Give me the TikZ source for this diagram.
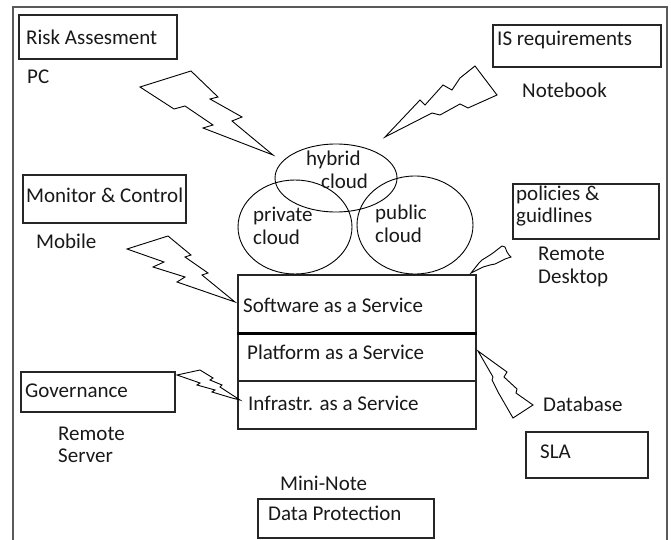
\documentclass[tikz,border=0pt]{standalone}
\usepackage{fontspec}
\setmainfont{Carlito}
\usetikzlibrary{shapes.geometric}
\begin{document}
\begin{tikzpicture}[x=1pt,y=-1pt,
  box/.style={draw=black!85,line width=1.6pt,rectangle,anchor=north west,inner sep=0pt},
  txt/.style={anchor=west,inner sep=0pt,align=left,text=black!90,font=\fontsize{21}{22.5}\selectfont},
  cloudell/.style={draw=black,line width=0.9pt,ellipse,inner sep=0pt},
  bolt/.style={draw=black,line width=0.9pt,line join=miter},
  frame/.style={draw=black!65,line width=1.6pt}]
\useasboundingbox (0,0) rectangle (671,540);
\fill[white] (0,0) rectangle (671,540);
% frame
\coordinate (fbl) at (13,540);
\coordinate (ftl) at (13,7);
\coordinate (ftr) at (667,7);
\coordinate (fbr) at (667,540);
\draw[frame] (fbl) -- (ftl) -- (ftr) -- (fbr);
% boxes
\node[box,minimum width=158,minimum height=44] (risk) at (18,14) {};
\node[txt] (riskT) at (26,37) {Risk Assesment};
\node[box,minimum width=168,minimum height=42] (isreq) at (492,24) {};
\node[txt] (isreqT) at (497,40) {IS requirements};
\node[box,minimum width=163,minimum height=48] (monitor) at (22,174) {};
\node[txt] (monitorT) at (26,195) {Monitor \& Control};
\node[box,minimum width=146,minimum height=55] (policies) at (512,183) {};
\node[txt] (policiesT) at (516,206) {policies \&\\guidlines};
\node[box,minimum width=238,minimum height=58] (saas) at (237,274) {};
\node[txt] (saasT) at (243,305) {Software as a Service};
\node[box,minimum width=238,minimum height=48] (paas) at (237,332) {};
\node[txt] (paasT) at (247,352) {Platform as a Service};
\node[box,minimum width=238,minimum height=48] (iaas) at (237,380) {};
\node[txt] (iaasT) at (248,403) {Infrastr. as a Service};
\draw[draw=black,line width=2.6pt] (saas.south west) -- (saas.south east);
\node[box,minimum width=154,minimum height=40] (gov) at (20,371) {};
\node[txt] (govT) at (25,391) {Governance};
\node[box,minimum width=122,minimum height=46] (sla) at (525,431) {};
\node[txt] (slaT) at (540,452) {SLA};
\node[box,minimum width=176,minimum height=39] (dp) at (257,498) {};
\node[txt] (dpT) at (268,513) {Data Protection};
% free labels
\node[txt] (pc) at (27,77) {PC};
\node[txt] (notebook) at (522,90) {Notebook};
\node[txt] (mobile) at (36,241) {Mobile};
\node[txt] (rdesk) at (538,267) {Remote\\Desktop};
\node[txt] (rserv) at (58,445) {Remote\\Server};
\node[txt] (db) at (543,404) {Database};
\node[txt] (mini) at (280,483) {Mini-Note};
% clouds
\node[cloudell,minimum width=122,minimum height=68] (hybrid) at (336,178) {};
\node[cloudell,minimum width=114,minimum height=94] (private) at (295,227) {};
\node[cloudell,minimum width=116,minimum height=98] (public) at (415,225) {};
\node[txt] (hybridT) at (306,170) {hybrid\\\hspace*{15pt}cloud};
\node[txt] (privateT) at (253,226) {private\\cloud};
\node[txt] (publicT) at (375,224) {public\\cloud};
% lightning bolts
\draw[bolt] (140,87) -- (191,71) -- (218,97) -- (210,99) -- (242,117) -- (232,121) -- (273,155)
  -- (203,128) -- (213,125) -- (185,106) -- (174,109) -- cycle;
\draw[bolt] (385,137) -- (420,100) -- (425,105) -- (443,85) -- (452,90) -- (460,78) -- (475,66)
  -- (497,95) -- (468,108) -- (460,104) -- (440,115) -- (432,113) -- cycle;
\draw[bolt] (127,249) -- (168,236) -- (191,255) -- (185,257) -- (208,273) -- (202,275) -- (235,302)
  -- (177,282) -- (185,277) -- (153,267) -- (164,262) -- cycle;
\draw[bolt] (471,273) -- (479,263) -- (482,260) -- (490,255) -- (493,253) -- (502,246) -- (505,247)
  -- (507,252) -- (509,255) -- (511,257) -- (505,259) -- (495,264) -- (490,265) -- (483,267) -- cycle;
\draw[bolt] (177,375) -- (200,370) -- (213,378) -- (210,380) -- (222,385) -- (220,387) -- (240,400)
  -- (232,398) -- (212,392) -- (215,390) -- (197,385) -- (200,383) -- cycle;
\draw[bolt] (478,351) -- (507,372) -- (504,377) -- (517,389) -- (516,393) -- (533,405) -- (513,418)
  -- (498,392) -- (492,380) -- (493,377) -- cycle;
\end{tikzpicture}
\end{document}
